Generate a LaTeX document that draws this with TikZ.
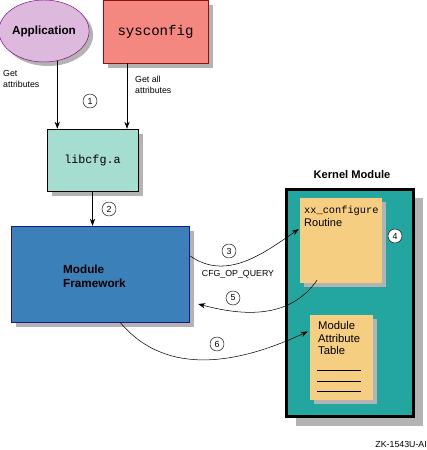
\documentclass[tikz,border=0pt]{standalone}
\usepackage{fontspec}
\setsansfont{Liberation Sans}
\setmonofont{Liberation Mono}
\usetikzlibrary{arrows.meta,positioning,calc,shapes.geometric,shadows}
\definecolor{appfill}{HTML}{DDB9DD}
\definecolor{appline}{HTML}{800080}
\definecolor{sysfill}{HTML}{F4877F}
\definecolor{sysline}{HTML}{8B1010}
\definecolor{libfill}{HTML}{A5DDD0}
\definecolor{mffill}{HTML}{3B80B9}
\definecolor{mfline}{HTML}{1A1A80}
\definecolor{kmfill}{HTML}{22A69F}
\definecolor{notefill}{HTML}{F6CE82}
\definecolor{shade}{HTML}{B3B3B3}

\begin{document}
\begin{tikzpicture}[x=0.03cm,y=-0.03cm,font=\sffamily,>={Stealth[length=6pt,width=4.5pt]},
  shd/.style={drop shadow={shadow xshift=#1,shadow yshift=-#1,fill=shade,opacity=1}},
  box/.style={rectangle,inner sep=0pt,shd=0.14cm},
  note/.style={rectangle,fill=notefill,inner sep=0pt,shd=0.12cm},
  lab/.style={font=\sffamily\fontsize{7.5}{9.5}\selectfont,align=left,inner sep=0pt},
  head/.style={font=\sffamily\bfseries\fontsize{10}{12}\selectfont},
  num/.style={draw,circle,inner sep=0pt,minimum size=0.42cm,font=\sffamily\fontsize{7.5}{8}\selectfont},
  link/.style={->,line width=0.6pt},
  curvelink/.style={->,line width=0.45pt}]

\useasboundingbox (0,0) rectangle (427,450);

% ---- callers ----
\node[ellipse,draw=appline,fill=appfill,minimum width=2.64cm,minimum height=1.86cm,
      inner sep=0pt,shd=0.12cm,head] (app) at (44,31) {Application};
\node[box,draw=sysline,fill=sysfill,minimum width=3.15cm,minimum height=1.89cm,
      font=\ttfamily\fontsize{12}{14}\selectfont] (sys) at (155.5,31.5) {sysconfig};
\node[lab,anchor=north west] (getl) at (3,70) {Get\\attributes};
\node[lab,anchor=north west] (getr) at (135,76) {Get all\\attributes};
\node[num] (n1) at (90,101) {1};

% ---- library ----
\node[box,draw=black,fill=libfill,minimum width=2.73cm,minimum height=1.86cm,
      font=\ttfamily\fontsize{10}{12}\selectfont] (lib) at (92.5,160) {libcfg.a};
\coordinate (sysout) at ($(sys.south)+(-28.5,0)$);
\draw[link] (app.-66) -- (app.-66 |- lib.north);
\draw[link] (sysout) -- (sysout |- lib.north);

% ---- module framework ----
\node[box,draw=mfline,fill=mffill,minimum width=5.34cm,minimum height=2.88cm] (mf) at (100,274) {};
\node[head,align=left,anchor=west,inner sep=0pt] (mftext) at (63,276) {Module\\Framework};
\draw[link] (lib.south) -- (lib.south |- mf.north);
\node[num] (n2) at (109,209) {2};

% ---- kernel module ----
\node[draw=black,line width=2.5pt,fill=kmfill,minimum width=3.81cm,minimum height=6.81cm,
      inner sep=0pt,shd=0.27cm] (km) at (350,303) {};
\node[head,font=\sffamily\bfseries\fontsize{9.5}{11}\selectfont] (kmtitle) at (352,175) {Kernel Module};

\node[note,minimum width=2.46cm,minimum height=2.55cm] (xxc) at (341,240.5) {};
\node[anchor=north west,inner sep=0pt,align=left,font=\sffamily\fontsize{9.4}{11}\selectfont]
  (xxctext) at (304,206) {{\fontsize{8.8}{11}\ttfamily xx\_configure}\\Routine};
\node[num,fill=white] (n4) at (395,236) {4};

\node[note,minimum width=1.89cm,minimum height=2.55cm] (mat) at (341.5,357.5) {};
\node[anchor=north west,inner sep=0pt,align=left,font=\sffamily\fontsize{9.6}{10.8}\selectfont]
  (mattext) at (318,321) {Module\\Attribute\\Table};
\foreach \dy in {12.5,23.5,33.5}
  \draw[line width=0.6pt] ($(mat.west)+(7,\dy)$) -- ++(44,0);

% ---- calls between framework and module ----
\draw[curvelink] ($(mf.east)+(1,-18)$) to[out=-35,in=215] ($(xxc.west)+(-1,-11.5)$);
\node[num] (n3) at (229,251) {3};
\node[lab] (cfg) at (238,274) {CFG\_OP\_QUERY};

\draw[curvelink] ($(xxc.south)+(-24,-3)$) to[out=235,in=-15] ($(mf.east)+(9,30)$);
\node[num] (n5) at (233,298) {5};

\draw[curvelink] ($(mf.south)+(20,0)$) to[out=-50,in=205] ($(mat.west)+(-2,-26)$);
\node[num] (n6) at (217,344) {6};

\node[lab,anchor=east] (tag) at (427,444.5) {ZK-1543U-AI};

\end{tikzpicture}
\end{document}
